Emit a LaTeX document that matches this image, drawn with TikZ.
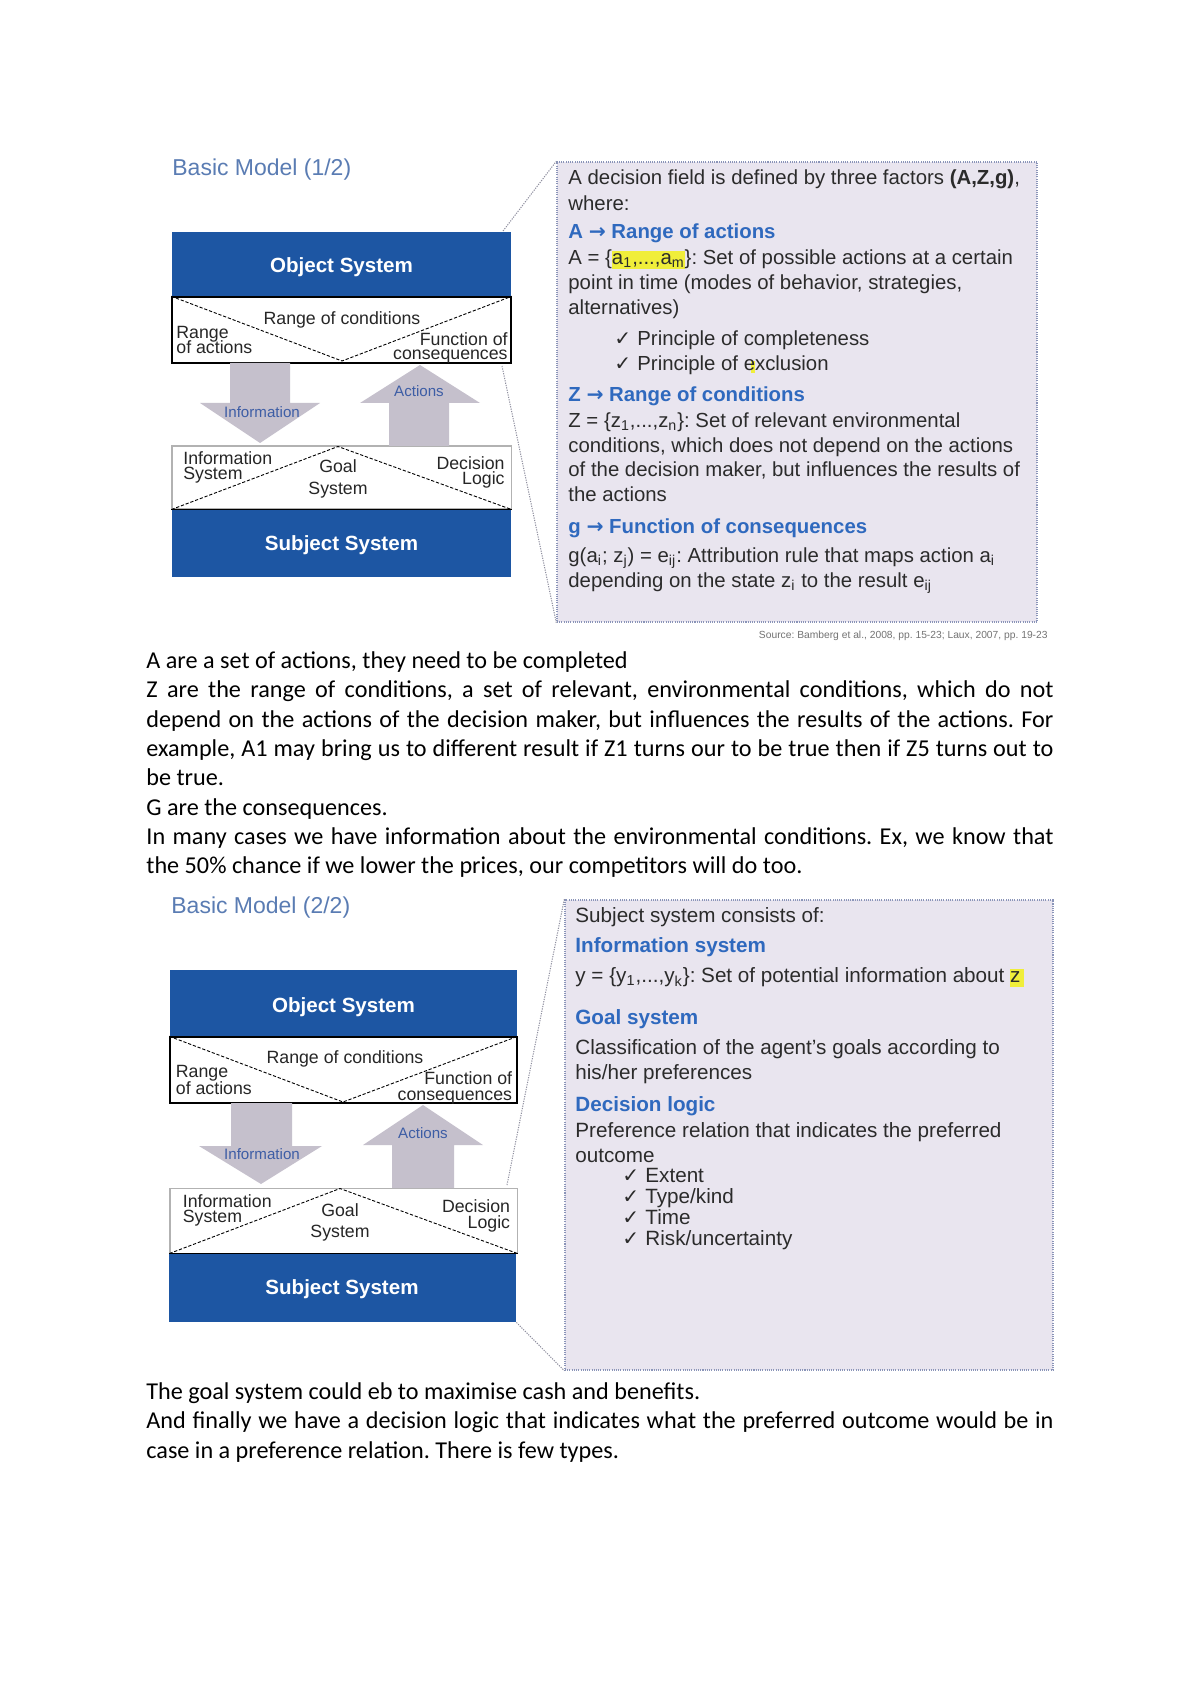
\documentclass[tikz,border=0pt]{standalone}
\usepackage{fontspec}
\setmainfont{Liberation Sans}
\newfontfamily\bodyfont{Carlito}
\newfontfamily\symfont{DejaVu Sans}
\usetikzlibrary{fit}
\definecolor{boxblue}{HTML}{1D56A3}
\definecolor{arrowgray}{HTML}{C5C0CC}
\definecolor{panelfill}{HTML}{E9E5EF}
\definecolor{panelborder}{HTML}{8A94B8}
\definecolor{conngray}{HTML}{8F8F9F}
\definecolor{headblue}{HTML}{2F69BE}
\definecolor{titleblue}{HTML}{5A7CB3}
\definecolor{paneltext}{HTML}{2B2B2B}
\definecolor{arrowtext}{HTML}{3D5DA5}
\definecolor{labeltext}{HTML}{262626}
\definecolor{hlyellow}{HTML}{F0EE3A}
\newcommand{\chk}{{\symfont\fontsize{10}{12}\selectfont ✓}}
\newcommand{\harr}{{\symfont\bfseries →}}
\newcommand{\hlt}[1]{{\setlength{\fboxsep}{0pt}\colorbox{hlyellow}{\rule[-2pt]{0pt}{8.5pt}#1}}}
\newcommand{\jline}[1]{\makebox[450pt][s]{#1}}
\frenchspacing
\begin{document}
\begin{tikzpicture}[x=0.49607pt,y=-0.49607pt,
  bluebox/.style={rectangle, fill=boxblue, inner sep=0pt},
  boxtxt/.style={inner sep=0pt, anchor=base, text=white, font=\fontsize{10.2}{12}\selectfont\bfseries},
  bandtop/.style={rectangle, fill=white, draw=black, line width=0.7pt, inner sep=0pt},
  bandbot/.style={rectangle, fill=white, draw=black!30, line width=0.5pt, inner sep=0pt},
  lbl/.style={inner sep=0pt, text=labeltext, font=\fontsize{8.8}{10}\selectfont},
  arrlbl/.style={inner sep=0pt, anchor=base, text=arrowtext, font=\fontsize{7.5}{9}\selectfont},
  bigarrow/.style={fill=arrowgray},
  dsh/.style={black, line width=0.45pt, dash pattern=on 1.6pt off 0.9pt},
  panel/.style={rectangle, fill=panelfill, draw=panelborder, line width=0.7pt, dash pattern=on 0.5pt off 0.6pt, inner sep=0pt},
  conn/.style={draw=conngray, line width=0.5pt, dash pattern=on 0.6pt off 0.6pt},
  ptxt/.style={inner sep=0pt, anchor=base west, text=paneltext, font=\fontsize{10.1}{12}\selectfont},
  phead/.style={ptxt, text=headblue, font=\fontsize{10.1}{12}\selectfont\bfseries},
  ptxtb/.style={ptxt, font=\fontsize{10.25}{12}\selectfont},
  pheadb/.style={ptxt, text=headblue, font=\fontsize{10.25}{12}\selectfont\bfseries},
  title/.style={inner sep=0pt, anchor=west, text=titleblue, font=\fontsize{11.4}{13}\selectfont},
  srctxt/.style={inner sep=0pt, anchor=base east, text=black!55, font=\fontsize{5.1}{6}\selectfont},
  body/.style={inner sep=0pt, anchor=base west, text=black, font=\bodyfont\fontsize{12}{14.65}\selectfont}
]
\useasboundingbox (0,0) rectangle (1200,1697);
\fill[white] (0,0) rectangle (1200,1697);

% ================= Basic Model (1/2) =================
\node[title] (t1) at (172,170) {Basic Model (1/2)};

\node[panel, fit={(557,162) (1037,622)}] (pan1) {};
\coordinate (c1a) at (503,231);
\coordinate (c1b) at (502,366);
\draw[conn] (c1a) -- (pan1.north west);
\draw[conn] (c1b) -- (pan1.south west);

\node[bluebox, fit={(172,232) (511,297)}] (obj1) {};
\node[bluebox, fit={(172,509) (511,577)}] (subj1) {};
\node[boxtxt] (obj1t) at (341.5,273) {Object System};
\node[boxtxt] (subj1t) at (341.5,550.5) {Subject System};
\node[bandtop, fit={(172,297) (511,363)}] (band1) {};
\node[bandbot, fit={(172,446) (511,509)}] (band2) {};
\draw[black, line width=0.8pt] (band2.south west) -- (band2.south east);
\coordinate (v1) at (342,361);
\coordinate (v2) at (338,446.5);
\draw[dsh] (band1.north west) -- (v1) -- (band1.north east);
\draw[dsh] (band2.south west) -- (v2) -- (band2.south east);

\fill[bigarrow] (230,363) -- (290,363) -- (290,403) -- (320,403) -- (260,443) -- (200,403) -- (230,403) -- cycle;
\fill[bigarrow] (389,446) -- (449,446) -- (449,403) -- (480,403) -- (420,365) -- (360,403) -- (389,403) -- cycle;
\node[arrlbl] (ai1) at (262,417.5) {Information};
\node[arrlbl] (aa1) at (419,396.5) {Actions};

\node[lbl, anchor=base] (rc1) at (342,325) {Range of conditions};
\node[lbl, anchor=base west] (ra1) at (176,338.5) {Range};
\node[lbl, anchor=base west] (ra1b) at (176,354) {of actions};
\node[lbl, anchor=base east] (fc1) at (508,345.5) {Function of};
\node[lbl, anchor=base east] (fc1b) at (508,360) {consequences};
\node[lbl, anchor=base west] (is1) at (183,464.5) {Information};
\node[lbl, anchor=base west] (is1b) at (183,479.5) {System};
\node[lbl, anchor=base] (gs1) at (338,473) {Goal};
\node[lbl, anchor=base] (gs1b) at (338,494) {System};
\node[lbl, anchor=base east] (dl1) at (505,469.5) {Decision};
\node[lbl, anchor=base east] (dl1b) at (505,484.5) {Logic};

% panel 1 text
\fill[hlyellow] (751,361.5) rectangle (755,373.5);
\node[ptxt] (p1a) at (568,184.5) {A decision field is defined by three factors \textbf{(A,Z,g)},};
\node[ptxt] (p1b) at (568,210.5) {where:};
\node[phead] (p1c) at (568,238.5) {A \harr\ Range of actions};
\node[ptxt] (p1d) at (568,264.5) {A = \{\hlt{a\textsubscript{1},...,a\textsubscript{m}}\}: Set of possible actions at a certain};
\node[ptxt] (p1e) at (568,289.5) {point in time (modes of behavior, strategies,};
\node[ptxt] (p1f) at (568,314.5) {alternatives)};
\node[ptxt] (k1a) at (614,345.5) {\chk};
\node[ptxt] (p1g) at (637,345.5) {Principle of completeness};
\node[ptxt] (k1b) at (614,370.5) {\chk};
\node[ptxt] (p1h) at (637,370.5) {Principle of exclusion};
\node[phead] (p1i) at (568,402) {Z \harr\ Range of conditions};
\node[ptxt] (p1j) at (568,427.5) {Z = \{z\textsubscript{1},...,z\textsubscript{n}\}: Set of relevant environmental};
\node[ptxt] (p1k) at (568,452.5) {conditions, which does not depend on the actions};
\node[ptxt] (p1l) at (568,476.5) {of the decision maker, but influences the results of};
\node[ptxt] (p1m) at (568,501.5) {the actions};
\node[phead] (p1n) at (568,533.5) {g \harr\ Function of consequences};
\node[ptxt] (p1o) at (568,562.5) {g(a\textsubscript{i}; z\textsubscript{j}) = e\textsubscript{ij}: Attribution rule that maps action a\textsubscript{i}};
\node[ptxt] (p1p) at (568,587.5) {depending on the state z\textsubscript{i} to the result e\textsubscript{ij}};
\node[srctxt] (src1) at (1048,638) {Source: Bamberg et al., 2008, pp. 15-23; Laux, 2007, pp. 19-23};

% ================= body text 1 =================
\node[body] (b1) at (146,668.5) {A are a set of actions, they need to be completed};
\node[body] (b2) at (146,697.8) {\jline{Z are the range of conditions, a set of relevant, environmental conditions, which do not}};
\node[body] (b3) at (146,727.1) {\jline{depend on the actions of the decision maker, but influences the results of the actions. For}};
\node[body] (b4) at (146,756.4) {\jline{example, A1 may bring us to different result if Z1 turns our to be true then if Z5 turns out to}};
\node[body] (b5) at (146,785.7) {be true.};
\node[body] (b6) at (146,815.0) {G are the consequences.};
\node[body] (b7) at (146,844.3) {\jline{In many cases we have information about the environmental conditions. Ex, we know that}};
\node[body] (b8) at (146,873.6) {the 50\% chance if we lower the prices, our competitors will do too.};

% ================= Basic Model (2/2) =================
\node[title] (t2) at (171,907.5) {Basic Model (2/2)};

\node[panel, fit={(565,900) (1053,1370)}] (pan2) {};
\coordinate (c2a) at (507,1185);
\draw[conn] (c2a) -- (pan2.north west);

\node[bluebox, fit={(170,970) (517,1037)}] (obj2) {};
\node[bluebox, fit={(169,1253) (516,1322)}] (subj2) {};
\node[boxtxt] (obj2t) at (343.5,1012.5) {Object System};
\node[boxtxt] (subj2t) at (342,1294.5) {Subject System};
\draw[conn] (subj2.south east) -- (pan2.south west);
\node[bandtop, fit={(170,1037) (517,1103)}] (band3) {};
\node[bandbot, fit={(170,1188) (517,1253)}] (band4) {};
\draw[black, line width=0.8pt] (band4.south west) -- (band4.south east);
\coordinate (v3) at (343,1102);
\coordinate (v4) at (340,1188.5);
\draw[dsh] (band3.north west) -- (v3) -- (band3.north east);
\draw[dsh] (band4.south west) -- (v4) -- (band4.south east);

\fill[bigarrow] (231,1103) -- (292,1103) -- (292,1146) -- (322,1146) -- (261,1184) -- (199,1146) -- (231,1146) -- cycle;
\fill[bigarrow] (392,1188) -- (454,1188) -- (454,1145) -- (483,1145) -- (423,1105) -- (363,1145) -- (392,1145) -- cycle;
\node[arrlbl] (ai2) at (262,1159) {Information};
\node[arrlbl] (aa2) at (423,1138) {Actions};

\node[lbl, anchor=base] (rc2) at (345,1063) {Range of conditions};
\node[lbl, anchor=base west] (ra2) at (175.5,1077.5) {Range};
\node[lbl, anchor=base west] (ra2b) at (175.5,1094) {of actions};
\node[lbl, anchor=base east] (fc2) at (512.5,1084.5) {Function of};
\node[lbl, anchor=base east] (fc2b) at (512.5,1100) {consequences};
\node[lbl, anchor=base west] (is2) at (182.5,1207) {Information};
\node[lbl, anchor=base west] (is2b) at (182.5,1222) {System};
\node[lbl, anchor=base] (gs2) at (340,1216) {Goal};
\node[lbl, anchor=base] (gs2b) at (340,1237.5) {System};
\node[lbl, anchor=base east] (dl2) at (510.5,1212.5) {Decision};
\node[lbl, anchor=base east] (dl2b) at (510.5,1228) {Logic};

% panel 2 text
\node[ptxtb] (p2a) at (575,922) {Subject system consists of:};
\node[pheadb] (p2b) at (575,952) {Information system};
\node[ptxtb] (p2c) at (575,982.5) {y = \{y\textsubscript{1},...,y\textsubscript{k}\}: Set of potential information about \hlt{z\kern1.5pt}};
\node[pheadb] (p2d) at (575,1024) {Goal system};
\node[ptxtb] (p2e) at (575,1054) {Classification of the agent’s goals according to};
\node[ptxtb] (p2f) at (575,1079) {his/her preferences};
\node[pheadb] (p2g) at (575,1111) {Decision logic};
\node[ptxtb] (p2h) at (575,1137.5) {Preference relation that indicates the preferred};
\node[ptxtb] (p2i) at (575,1162) {outcome};
\node[ptxtb] (k2a) at (622,1182.5) {\chk};
\node[ptxtb] (p2j) at (645,1182.5) {Extent};
\node[ptxtb] (k2b) at (622,1203) {\chk};
\node[ptxtb] (p2k) at (645,1203) {Type/kind};
\node[ptxtb] (k2c) at (622,1224.5) {\chk};
\node[ptxtb] (p2l) at (645,1224.5) {Time};
\node[ptxtb] (k2d) at (622,1245.5) {\chk};
\node[ptxtb] (p2m) at (645,1245.5) {Risk/uncertainty};

% ================= body text 2 =================
\node[body] (b9) at (146,1399.5) {The goal system could eb to maximise cash and benefits.};
\node[body] (b10) at (146,1428.8) {\jline{And finally we have a decision logic that indicates what the preferred outcome would be in}};
\node[body] (b11) at (146,1458.1) {case in a preference relation. There is few types.};
\end{tikzpicture}
\end{document}
